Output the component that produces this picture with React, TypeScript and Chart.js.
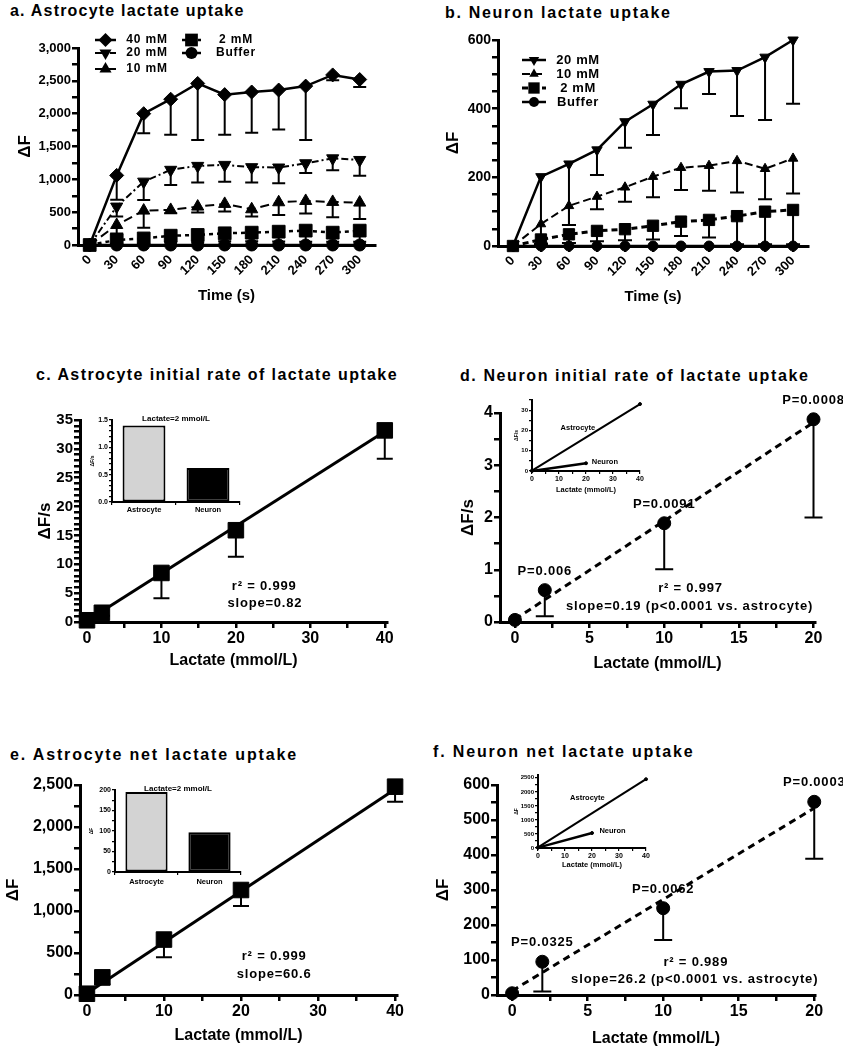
import React, { useEffect, useRef } from 'react';
import { Chart, registerables } from 'chart.js';
Chart.register(...registerables);

const FONT = "'Liberation Sans', Arial, Helvetica, sans-serif";

// ================= DATA =================
const timePoints = [0, 30, 60, 90, 120, 150, 180, 210, 240, 270, 300];

// a. Astrocyte lactate uptake (ΔF), mean and lower error
const astro40mM = [0, 1060, 2000, 2220, 2460, 2290, 2330, 2360, 2420, 2590, 2520];
const astro40mMErr = [0, 370, 300, 540, 860, 610, 620, 600, 820, 80, 115];
const astro20mM = [0, 585, 965, 1145, 1205, 1220, 1185, 1180, 1245, 1320, 1295];
const astro20mMErr = [0, 150, 280, 230, 255, 255, 235, 240, 150, 180, 240];
const astro10mM = [0, 305, 524, 534, 585, 626, 544, 651, 671, 656, 646];
const astro10mMErr = [0, 130, 260, 50, 90, 115, 110, 195, 190, 235, 250];
const astro2mM = [0, 76, 100, 142, 153, 178, 188, 203, 219, 188, 219];
const astro2mMErr = [0, 60, 80, 100, 110, 120, 130, 150, 170, 140, 170];
const astroBuffer = [0, 0, 0, 0, 0, 0, 0, 0, 0, 0, 0];

// b. Neuron lactate uptake (ΔF)
const neuron20mM = [0, 202, 239, 280, 362, 413, 471, 508, 511, 550, 600];
const neuron20mMErr = [0, 195, 178, 73, 76, 90, 70, 65, 132, 183, 186];
const neuron10mM = [0, 64, 117, 144, 171, 202, 228, 234, 248, 225, 255];
const neuron10mMErr = [0, 0, 56, 37, 42, 60, 65, 73, 92, 89, 102];
const neuron2mM = [0, 19, 34, 44, 49, 59, 71, 76, 87, 100, 105];
const neuron2mMErr = [0, 14, 25, 30, 32, 40, 42, 51, 82, 95, 100];
const neuronBuffer = [0, 0, 0, 0, 0, 0, 0, 0, 0, 0, 0];

// c / e: astrocyte concentrations; d / f: neuron concentrations (mmol/L)
const lactateAstro = [0, 2, 10, 20, 40];
const lactateNeuron = [0, 2, 10, 20];
const fitXAstro = [0, 40];
const fitXNeuron = [0, 20];

// c. Astrocyte initial rate (ΔF/s)
const astroRate = [0.3, 1.6, 8.5, 15.9, 33.2];
const astroRateErr = [0, 0.5, 4.4, 4.6, 4.9];
const astroRateFit = [0.2, 33.0];

// d. Neuron initial rate (ΔF/s)
const neuronRate = [0.04, 0.61, 1.89, 3.88];
const neuronRateErr = [0, 0.5, 0.88, 1.88];
const neuronRateFit = [0.05, 3.82];
const neuronRateP = ['', 'P=0.006', 'P=0.0091', 'P=0.0008'];

// e. Astrocyte net uptake (ΔF)
const astroNet = [15, 210, 660, 1250, 2480];
const astroNetErr = [0, 85, 210, 190, 180];
const astroNetFit = [20, 2450];

// f. Neuron net uptake (ΔF)
const neuronNet = [5, 95, 248, 552];
const neuronNetErr = [0, 85, 91, 163];
const neuronNetFit = [12, 534];
const neuronNetP = ['', 'P=0.0325', 'P=0.0062', 'P=0.0003'];

// insets at lactate = 2 mmol/L
const insetCells = ['Astrocyte', 'Neuron'];
const insetRate2mM = [1.4, 0.62];
const insetNet2mM = [195, 97];

// tick values
const yTicksA = [0, 250, 500, 750, 1000, 1250, 1500, 1750, 2000, 2250, 2500, 2750, 3000];
const yLabelsA = [0, 500, 1000, 1500, 2000, 2500, 3000];
const yTicksB = [0, 50, 100, 150, 200, 250, 300, 350, 400, 450, 500, 550, 600];
const yLabelsB = [0, 200, 400, 600];
const yTicksC = [0, 1, 2, 3, 4, 5, 6, 7, 8, 9, 10, 11, 12, 13, 14, 15, 16, 17, 18, 19, 20, 21, 22, 23, 24, 25, 26, 27, 28, 29, 30, 31, 32, 33, 34, 35];
const yLabelsC = [0, 5, 10, 15, 20, 25, 30, 35];
const xTicks40 = [0, 5, 10, 15, 20, 25, 30, 35, 40];
const xLabels40 = [0, 10, 20, 30, 40];
const yTicksD = [0, 0.5, 1, 1.5, 2, 2.5, 3, 3.5, 4];
const yLabelsD = [0, 1, 2, 3, 4];
const xTicks20 = [0, 2.5, 5, 7.5, 10, 12.5, 15, 17.5, 20];
const xLabels20 = [0, 5, 10, 15, 20];
const yTicksE = [0, 250, 500, 750, 1000, 1250, 1500, 1750, 2000, 2250, 2500];
const yLabelsE = [0, 500, 1000, 1500, 2000, 2500];
const yTicksF = [0, 50, 100, 150, 200, 250, 300, 350, 400, 450, 500, 550, 600];
const yLabelsF = [0, 100, 200, 300, 400, 500, 600];
const insetRateTicks = [0, 0.1, 0.2, 0.3, 0.4, 0.5, 0.6, 0.7, 0.8, 0.9, 1, 1.1, 1.2, 1.3, 1.4, 1.5];
const insetRateLabels = [0, 0.5, 1, 1.5];
const insetNetTicks = [0, 25, 50, 75, 100, 125, 150, 175, 200];
const insetNetLabels = [0, 50, 100, 150, 200];
const insetDYTicks = [0, 5, 10, 15, 20, 25, 30, 35];
const insetDYLabels = [0, 10, 20, 30];
const insetFYTicks = [0, 250, 500, 750, 1000, 1250, 1500, 1750, 2000, 2250, 2500];
const insetFYLabels = [0, 500, 1000, 1500, 2000, 2500];

// ================= HELPERS =================
type Rect = { l: number; t: number; r: number; b: number };

const fmtComma = (v: number) => v.toLocaleString('en-US');
const fmtPlain = (v: number) => String(v);
const fmtOne = (v: number) => v.toFixed(1);

function makeAxis(o: any): any {
  const lab: Set<number> | null = o.labeled ? new Set(o.labeled) : null;
  const isCat = o.type === 'category';
  const ax: any = {
    type: isCat ? 'category' : 'linear',
    position: o.axis === 'x' ? 'bottom' : 'left',
    offset: isCat,
    afterFit: (s: any) => {
      if (o.axis === 'x') s.height = o.size;
      else s.width = o.size;
      s.paddingLeft = 0;
      s.paddingRight = 0;
      s.paddingTop = 0;
      s.paddingBottom = 0;
    },
    border: { display: true, color: '#000', width: o.bw },
    grid: {
      display: true,
      drawOnChartArea: false,
      drawTicks: true,
      tickLength: o.tl,
      tickWidth: o.tw,
      tickColor: '#000',
      color: '#000',
      lineWidth: o.tw,
      offset: isCat,
    },
    ticks: {
      autoSkip: false,
      color: '#000',
      padding: o.tp ?? 1,
      minRotation: o.rot ?? 0,
      maxRotation: o.rot ?? 0,
      font: { family: FONT, size: o.fs, weight: 'bold' },
    },
    title: {
      display: !!o.title,
      text: o.title || '',
      color: '#000',
      font: { family: FONT, size: o.tfs || 12, weight: 'bold' },
      padding: o.axis === 'x' ? { top: 0, bottom: o.tpad || 0 } : { top: o.tpad || 0, bottom: 0 },
    },
  };
  if (!isCat) {
    ax.min = o.min;
    ax.max = o.max;
    ax.bounds = 'data';
    ax.afterBuildTicks = (s: any) => {
      s.ticks = o.ticks.map((v: number) => ({ value: v }));
    };
    const f = o.fmt || fmtPlain;
    ax.ticks.callback = (v: any) => (!lab || lab.has(Number(v)) ? f(Number(v)) : '');
  }
  return ax;
}

function drawMarker(ctx: CanvasRenderingContext2D, style: string, rotDeg: number, r: number, x: number, y: number) {
  ctx.beginPath();
  if (style === 'circle') {
    ctx.arc(x, y, r, 0, Math.PI * 2);
  } else if (style === 'rect') {
    const s = r * Math.SQRT1_2;
    ctx.rect(x - s, y - s, 2 * s, 2 * s);
  } else if (style === 'rectRot') {
    ctx.moveTo(x, y - r);
    ctx.lineTo(x + r, y);
    ctx.lineTo(x, y + r);
    ctx.lineTo(x - r, y);
    ctx.closePath();
  } else if (style === 'triangle') {
    let rad = (rotDeg * Math.PI) / 180;
    ctx.moveTo(x + Math.sin(rad) * r, y - Math.cos(rad) * r);
    rad += (2 * Math.PI) / 3;
    ctx.lineTo(x + Math.sin(rad) * r, y - Math.cos(rad) * r);
    rad += (2 * Math.PI) / 3;
    ctx.lineTo(x + Math.sin(rad) * r, y - Math.cos(rad) * r);
    ctx.closePath();
  }
  ctx.fill();
}

function errorBarPlugin(cap: number, lw: number) {
  return {
    id: 'errorBars',
    beforeDatasetsDraw(chart: any) {
      const { ctx } = chart;
      const ys = chart.scales.y;
      chart.data.datasets.forEach((ds: any, i: number) => {
        if (!ds.err) return;
        const meta = chart.getDatasetMeta(i);
        ctx.save();
        ctx.strokeStyle = '#000';
        ctx.lineWidth = lw;
        ctx.setLineDash([]);
        meta.data.forEach((pt: any, j: number) => {
          const e = ds.err[j];
          if (!e) return;
          const v = ds.data[j].y;
          const y1 = ys.getPixelForValue(v - e);
          ctx.beginPath();
          ctx.moveTo(pt.x, pt.y);
          ctx.lineTo(pt.x, y1);
          ctx.moveTo(pt.x - cap / 2, y1);
          ctx.lineTo(pt.x + cap / 2, y1);
          ctx.stroke();
        });
        ctx.restore();
      });
    },
  };
}

function textPlugin(items: any[]) {
  return {
    id: 'sketchTexts',
    afterDatasetsDraw(chart: any) {
      const { ctx } = chart;
      const xs = chart.scales.x;
      const ys = chart.scales.y;
      items.forEach((it: any) => {
        const px = xs.getPixelForValue(it.x);
        const py = ys.getPixelForValue(it.y);
        ctx.save();
        ctx.font = `bold ${it.size}px ${FONT}`;
        ctx.fillStyle = '#000';
        ctx.textAlign = it.align || 'center';
        ctx.textBaseline = 'middle';
        (ctx as any).letterSpacing = `${it.ls || 0}px`;
        ctx.fillText(it.text, px, py);
        ctx.restore();
      });
    },
  };
}

function legendPlugin(items: any[], ox: number, oy: number, fs: number, ls: number) {
  return {
    id: 'sketchLegend',
    afterDraw(chart: any) {
      const { ctx } = chart;
      items.forEach((it: any) => {
        const ds = chart.data.datasets[it.ds];
        const x0 = it.x0 - ox;
        const x1 = it.x1 - ox;
        const y = it.y - oy;
        ctx.save();
        ctx.strokeStyle = '#000';
        ctx.fillStyle = '#000';
        ctx.lineWidth = ds.borderWidth;
        ctx.setLineDash(ds.borderDash || []);
        ctx.beginPath();
        ctx.moveTo(x0, y);
        ctx.lineTo(x1, y);
        ctx.stroke();
        ctx.setLineDash([]);
        drawMarker(ctx, ds.pointStyle, ds.pointRotation || 0, ds.pointRadius, (x0 + x1) / 2, y);
        ctx.font = `bold ${fs}px ${FONT}`;
        ctx.textAlign = 'center';
        ctx.textBaseline = 'middle';
        (ctx as any).letterSpacing = `${ls}px`;
        ctx.fillText(ds.label, it.tx - ox, y);
        ctx.restore();
      });
    },
  };
}

function series(label: string, xs: number[], ys: number[], err: number[] | null, st: any) {
  return {
    label,
    data: xs.map((x, i) => ({ x, y: ys[i] })),
    err,
    showLine: st.line !== false,
    borderColor: '#000',
    backgroundColor: '#000',
    borderWidth: st.lw ?? 2.5,
    borderDash: st.dash ?? [],
    pointStyle: st.ps,
    pointRotation: st.rot ?? 0,
    pointRadius: st.r,
    pointBorderWidth: 1,
    pointBackgroundColor: '#000',
    pointBorderColor: '#000',
    clip: false,
    tension: 0,
  };
}

function baseOptions(pad: Rect, x: any, y: any) {
  return {
    responsive: false,
    animation: false,
    events: [],
    layout: { padding: { left: 0, top: pad.t, right: pad.r, bottom: 0 } },
    plugins: { legend: { display: false }, tooltip: { enabled: false }, title: { display: false } },
    scales: { x, y },
  };
}

type Spec = { key: string; area: Rect; pad: Rect; make: (ox: number, oy: number) => any };

function ChartBox({ spec }: { spec: Spec }) {
  const ref = useRef<HTMLCanvasElement | null>(null);
  const { area, pad } = spec;
  const left = area.l - pad.l;
  const top = area.t - pad.t;
  const w = area.r - area.l + pad.l + pad.r;
  const h = area.b - area.t + pad.t + pad.b;
  useEffect(() => {
    const chart = new Chart(ref.current as HTMLCanvasElement, spec.make(left, top));
    return () => chart.destroy();
  }, []);
  return (
    <canvas
      ref={ref}
      width={w}
      height={h}
      style={{ position: 'absolute', left, top, width: w, height: h, display: 'block' }}
    />
  );
}

// ================= PANELS =================
const mainTick = { tl: 6, tw: 2.5, bw: 3 };

const panelA: Spec = {
  key: 'a',
  area: { l: 78, t: 48, r: 375, b: 245 },
  pad: { l: 78, t: 48, r: 45, b: 62 },
  make(ox, oy) {
    const pad = this.pad;
    const datasets = [
      series('40 mM', timePoints, astro40mM, astro40mMErr, { ps: 'rectRot', r: 7, lw: 2.5 }),
      series('20 mM', timePoints, astro20mM, astro20mMErr, { ps: 'triangle', rot: 180, r: 7, lw: 2, dash: [7, 3, 2, 3] }),
      series('10 mM', timePoints, astro10mM, astro10mMErr, { ps: 'triangle', r: 7, lw: 2, dash: [9, 5] }),
      series('2 mM', timePoints, astro2mM, astro2mMErr, { ps: 'rect', r: 9, lw: 2.5, dash: [4, 4] }),
      series('Buffer', timePoints, astroBuffer, null, { ps: 'circle', r: 6, lw: 2.5 }),
    ];
    const x = makeAxis({ axis: 'x', min: -13, max: 317, ticks: timePoints, size: pad.b, fs: 13, rot: 45, title: 'Time (s)', tfs: 15, tpad: 2, ...mainTick });
    const y = makeAxis({ axis: 'y', min: 0, max: 3000, ticks: yTicksA, labeled: yLabelsA, fmt: fmtComma, size: pad.l, fs: 13, title: 'ΔF', tfs: 17, tpad: 15, ...mainTick });
    return {
      type: 'scatter',
      data: { datasets },
      options: baseOptions(pad, x, y),
      plugins: [
        errorBarPlugin(13, 2),
        legendPlugin(
          [
            { ds: 0, x0: 95, x1: 116, tx: 147, y: 40 },
            { ds: 1, x0: 95, x1: 116, tx: 147, y: 53 },
            { ds: 2, x0: 95, x1: 116, tx: 147, y: 69 },
            { ds: 3, x0: 182, x1: 201, tx: 236, y: 40 },
            { ds: 4, x0: 182, x1: 201, tx: 236, y: 53 },
          ],
          ox, oy, 12, 0.8
        ),
      ],
    };
  },
};

const panelB: Spec = {
  key: 'b',
  area: { l: 498, t: 40, r: 808, b: 246 },
  pad: { l: 78, t: 40, r: 35, b: 61 },
  make(ox, oy) {
    const pad = this.pad;
    const datasets = [
      series('20 mM', timePoints, neuron20mM, neuron20mMErr, { ps: 'triangle', rot: 180, r: 6, lw: 2.5 }),
      series('10 mM', timePoints, neuron10mM, neuron10mMErr, { ps: 'triangle', r: 5.5, lw: 2, dash: [8, 4] }),
      series('2 mM', timePoints, neuron2mM, neuron2mMErr, { ps: 'rect', r: 8, lw: 3, dash: [6, 4] }),
      series('Buffer', timePoints, neuronBuffer, null, { ps: 'circle', r: 5, lw: 2.5 }),
    ];
    const x = makeAxis({ axis: 'x', min: -16, max: 316, ticks: timePoints, size: pad.b, fs: 13, rot: 45, title: 'Time (s)', tfs: 15, tpad: 1, ...mainTick });
    const y = makeAxis({ axis: 'y', min: 0, max: 600, ticks: yTicksB, labeled: yLabelsB, size: pad.l, fs: 14, title: 'ΔF', tfs: 17, tpad: 23, ...mainTick });
    return {
      type: 'scatter',
      data: { datasets },
      options: baseOptions(pad, x, y),
      plugins: [
        errorBarPlugin(14, 2),
        legendPlugin(
          [
            { ds: 0, x0: 522, x1: 546, tx: 578, y: 60 },
            { ds: 1, x0: 522, x1: 546, tx: 578, y: 74 },
            { ds: 2, x0: 522, x1: 546, tx: 578, y: 88 },
            { ds: 3, x0: 522, x1: 546, tx: 578, y: 102 },
          ],
          ox, oy, 13, 0.6
        ),
      ],
    };
  },
};

const panelC: Spec = {
  key: 'c',
  area: { l: 80, t: 420, r: 387, b: 622 },
  pad: { l: 80, t: 40, r: 33, b: 48 },
  make() {
    const pad = this.pad;
    const datasets = [
      series('Astrocyte', lactateAstro, astroRate, astroRateErr, { ps: 'rect', r: 11, line: false }),
      series('fit', fitXAstro, astroRateFit, null, { ps: 'circle', r: 0, lw: 3 }),
    ];
    const x = makeAxis({ axis: 'x', min: -0.94, max: 40.3, ticks: xTicks40, labeled: xLabels40, size: pad.b, fs: 16, title: 'Lactate (mmol/L)', tfs: 16, tpad: 0, ...mainTick });
    const y = makeAxis({ axis: 'y', min: 0, max: 35, ticks: yTicksC, labeled: yLabelsC, size: pad.l, fs: 15, title: 'ΔF/s', tfs: 17, tpad: 35, ...mainTick });
    return {
      type: 'scatter',
      data: { datasets },
      options: baseOptions(pad, x, y),
      plugins: [
        errorBarPlugin(16, 2),
        textPlugin([
          { text: 'r² = 0.999', x: 23.8, y: 6.1, size: 13, ls: 0.8 },
          { text: 'slope=0.82', x: 23.9, y: 3.2, size: 13, ls: 0.8 },
        ]),
      ],
    };
  },
};

const panelD: Spec = {
  key: 'd',
  area: { l: 500, t: 413, r: 815, b: 622 },
  pad: { l: 80, t: 60, r: 28, b: 51 },
  make() {
    const pad = this.pad;
    const datasets = [
      series('Neuron', lactateNeuron, neuronRate, neuronRateErr, { ps: 'circle', r: 6.5, line: false }),
      series('fit', fitXNeuron, neuronRateFit, null, { ps: 'circle', r: 0, lw: 3, dash: [7, 5] }),
    ];
    const x = makeAxis({ axis: 'x', min: -1.0, max: 20.1, ticks: xTicks20, labeled: xLabels20, size: pad.b, fs: 16, title: 'Lactate (mmol/L)', tfs: 16, tpad: 0, ...mainTick });
    const y = makeAxis({ axis: 'y', min: 0, max: 4, ticks: yTicksD, labeled: yLabelsD, size: pad.l, fs: 16, title: 'ΔF/s', tfs: 17, tpad: 38, ...mainTick });
    const pItems = lactateNeuron
      .map((xv, i) => ({ text: neuronRateP[i], x: xv, y: neuronRate[i] + 0.36, size: 13, ls: 0.8 }))
      .filter((it) => it.text);
    return {
      type: 'scatter',
      data: { datasets },
      options: baseOptions(pad, x, y),
      plugins: [
        errorBarPlugin(18, 2),
        textPlugin([
          ...pItems,
          { text: 'r² = 0.997', x: 11.76, y: 0.64, size: 13, ls: 0.8 },
          { text: 'slope=0.19 (p<0.0001 vs. astrocyte)', x: 11.7, y: 0.3, size: 13, ls: 0.85 },
        ]),
      ],
    };
  },
};

const panelE: Spec = {
  key: 'e',
  area: { l: 80, t: 785, r: 397, b: 995 },
  pad: { l: 80, t: 40, r: 23, b: 50 },
  make() {
    const pad = this.pad;
    const datasets = [
      series('Astrocyte', lactateAstro, astroNet, astroNetErr, { ps: 'rect', r: 11, line: false }),
      series('fit', fitXAstro, astroNetFit, null, { ps: 'circle', r: 0, lw: 3 }),
    ];
    const x = makeAxis({ axis: 'x', min: -0.9, max: 40.25, ticks: xTicks40, labeled: xLabels40, size: pad.b, fs: 16, title: 'Lactate (mmol/L)', tfs: 16, tpad: 0, ...mainTick });
    const y = makeAxis({ axis: 'y', min: 0, max: 2500, ticks: yTicksE, labeled: yLabelsE, fmt: fmtComma, size: pad.l, fs: 16, title: 'ΔF', tfs: 17, tpad: 3, ...mainTick });
    return {
      type: 'scatter',
      data: { datasets },
      options: baseOptions(pad, x, y),
      plugins: [
        errorBarPlugin(16, 2),
        textPlugin([
          { text: 'r² = 0.999', x: 24.3, y: 456, size: 13, ls: 0.8 },
          { text: 'slope=60.6', x: 24.3, y: 250, size: 13, ls: 0.8 },
        ]),
      ],
    };
  },
};

const panelF: Spec = {
  key: 'f',
  area: { l: 497, t: 785, r: 815, b: 995 },
  pad: { l: 77, t: 60, r: 28, b: 53 },
  make() {
    const pad = this.pad;
    const datasets = [
      series('Neuron', lactateNeuron, neuronNet, neuronNetErr, { ps: 'circle', r: 6.5, line: false }),
      series('fit', fitXNeuron, neuronNetFit, null, { ps: 'circle', r: 0, lw: 3, dash: [7, 5] }),
    ];
    const x = makeAxis({ axis: 'x', min: -1.0, max: 20.05, ticks: xTicks20, labeled: xLabels20, size: pad.b, fs: 16, title: 'Lactate (mmol/L)', tfs: 16, tpad: 0, ...mainTick });
    const y = makeAxis({ axis: 'y', min: 0, max: 600, ticks: yTicksF, labeled: yLabelsF, size: pad.l, fs: 16, title: 'ΔF', tfs: 17, tpad: 13, ...mainTick });
    const pItems = lactateNeuron
      .map((xv, i) => ({ text: neuronNetP[i], x: xv, y: neuronNet[i] + 55, size: 13, ls: 0.8 }))
      .filter((it) => it.text);
    return {
      type: 'scatter',
      data: { datasets },
      options: baseOptions(pad, x, y),
      plugins: [
        errorBarPlugin(18, 2),
        textPlugin([
          ...pItems,
          { text: 'r² = 0.989', x: 12.16, y: 93, size: 13, ls: 0.8 },
          { text: 'slope=26.2 (p<0.0001 vs. astrocyte)', x: 12.09, y: 45, size: 13, ls: 0.85 },
        ]),
      ],
    };
  },
};

const insetTick = { tl: 3, tw: 1.2, bw: 2 };

function barInset(key: string, area: Rect, pad: Rect, values: number[], max: number, ticks: number[], labeled: number[], fmt: any, yTitle: string, yTpad: number, xtp: number): Spec {
  return {
    key,
    area,
    pad,
    make() {
      const datasets = [
        {
          label: 'Lactate=2 mmol/L',
          data: values,
          backgroundColor: ['#d3d3d3', '#000000'],
          borderColor: '#000',
          borderWidth: 2,
          borderSkipped: false,
          barPercentage: 0.67,
          categoryPercentage: 1,
        },
      ];
      const x = makeAxis({ axis: 'x', type: 'category', size: pad.b, fs: 7.5, tp: xtp, ...insetTick });
      const y = makeAxis({ axis: 'y', min: 0, max, ticks, labeled, fmt, size: pad.l, fs: 7, title: yTitle, tfs: 5, tpad: yTpad, ...insetTick });
      return {
        type: 'bar',
        data: { labels: insetCells, datasets },
        options: baseOptions(pad, x, y),
        plugins: [textPlugin([{ text: 'Lactate=2 mmol/L', x: 0.5, y: max * 1.013, size: 8, ls: 0 }])],
      };
    },
  };
}

function lineInset(key: string, area: Rect, pad: Rect, astro: number[], neuron: number[], max: number, ticks: number[], labeled: number[], yTitle: string, yTpad: number, labels: any[]): Spec {
  return {
    key,
    area,
    pad,
    make() {
      const datasets = [
        series('Astrocyte', fitXAstro, astro, null, { ps: 'circle', r: 1.5, lw: 2 }),
        series('Neuron', fitXNeuron, neuron, null, { ps: 'circle', r: 1.5, lw: 2.5 }),
      ];
      const x = makeAxis({ axis: 'x', min: 0, max: 40, ticks: xTicks40, labeled: xLabels40, size: pad.b, fs: 7, tp: 0.5, title: 'Lactate (mmol/L)', tfs: 7.5, tpad: 3, ...insetTick });
      const y = makeAxis({ axis: 'y', min: 0, max, ticks, labeled, size: pad.l, fs: 6, title: yTitle, tfs: 5, tpad: yTpad, ...insetTick });
      return {
        type: 'scatter',
        data: { datasets },
        options: baseOptions(pad, x, y),
        plugins: [textPlugin(labels)],
      };
    },
  };
}

const insetC = barInset('ic', { l: 112, t: 420, r: 240, b: 502 }, { l: 32, t: 12, r: 8, b: 16 }, insetRate2mM, 1.5, insetRateTicks, insetRateLabels, fmtOne, 'ΔF/s', 10, 0);
const insetE = barInset('ie', { l: 115, t: 790, r: 241, b: 872 }, { l: 32, t: 12, r: 8, b: 18 }, insetNet2mM, 200, insetNetTicks, insetNetLabels, fmtPlain, 'ΔF', 6, 2);
const insetD = lineInset('id', { l: 532, t: 400, r: 640, b: 471 }, { l: 22, t: 8, r: 8, b: 26 }, astroRateFit, neuronRateFit, 35, insetDYTicks, insetDYLabels, 'ΔF/s', 4, [
  { text: 'Astrocyte', x: 17, y: 21.2, size: 7.5, ls: 0 },
  { text: 'Neuron', x: 27, y: 4.4, size: 7.5, ls: 0 },
]);
const insetF = lineInset('if', { l: 538, t: 775, r: 646, b: 848 }, { l: 24, t: 8, r: 8, b: 24 }, astroNetFit, neuronNetFit, 2600, insetFYTicks, insetFYLabels, 'ΔF', 0, [
  { text: 'Astrocyte', x: 18.3, y: 1800, size: 7.5, ls: 0 },
  { text: 'Neuron', x: 27.6, y: 590, size: 7.5, ls: 0 },
]);

const specs: Spec[] = [panelA, panelB, panelC, panelD, panelE, panelF, insetC, insetD, insetE, insetF];

const panelTitles = [
  { text: 'a. Astrocyte lactate uptake', x: 10, y: 1, ls: 1.2 },
  { text: 'b. Neuron lactate uptake', x: 445, y: 3, ls: 1.7 },
  { text: 'c. Astrocyte initial rate of lactate uptake', x: 36, y: 365, ls: 1.4 },
  { text: 'd. Neuron initial rate of lactate uptake', x: 460, y: 366, ls: 1.6 },
  { text: 'e. Astrocyte net lactate uptake', x: 10, y: 745, ls: 1.85 },
  { text: 'f. Neuron net lactate uptake', x: 433, y: 742, ls: 1.85 },
];

export default function App() {
  return (
    <div style={{ position: 'absolute', left: 0, top: 0, width: 843, height: 1050, background: '#fff', overflow: 'hidden' }}>
      {panelTitles.map((t) => (
        <div
          key={t.text}
          style={{
            position: 'absolute',
            left: t.x,
            top: t.y,
            font: `bold 16px ${FONT}`,
            lineHeight: '20px',
            letterSpacing: `${t.ls}px`,
            whiteSpace: 'nowrap',
            color: '#000',
          }}
        >
          {t.text}
        </div>
      ))}
      {specs.map((s) => (
        <ChartBox key={s.key} spec={s} />
      ))}
    </div>
  );
}
